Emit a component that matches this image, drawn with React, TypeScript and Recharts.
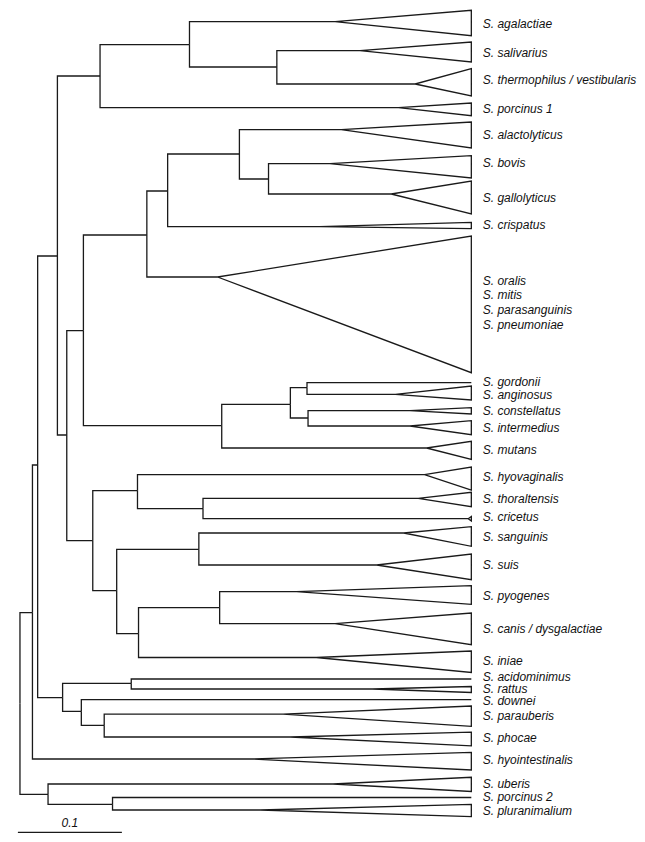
import React from 'react';
import { ScatterChart, Scatter, XAxis, YAxis } from 'recharts';

// Internal nodes: x = distance from root (substitutions/site), y = vertical position
const internalNodes = [
  { id: 'root', x: 0.0, y: 703.5, parent: '' },
  { id: 'n32', x: 0.012, y: 612.7, parent: 'root' },
  { id: 'n38', x: 0.017, y: 465, parent: 'n32' },
  { id: 'n57', x: 0.036, y: 256, parent: 'n38' },
  { id: 'n100', x: 0.077, y: 76, parent: 'n57' },
  { id: 'n190', x: 0.163, y: 44.7, parent: 'n100' },
  { id: 'n277', x: 0.247, y: 67, parent: 'n190' },
  { id: 'n67', x: 0.045, y: 435, parent: 'n57' },
  { id: 'n83', x: 0.061, y: 330.7, parent: 'n67' },
  { id: 'n147', x: 0.122, y: 235, parent: 'n83' },
  { id: 'n168', x: 0.142, y: 191, parent: 'n147' },
  { id: 'n239', x: 0.211, y: 154, parent: 'n168' },
  { id: 'n269', x: 0.239, y: 179, parent: 'n239' },
  { id: 'n222', x: 0.194, y: 425.7, parent: 'n83' },
  { id: 'n290', x: 0.26, y: 404.3, parent: 'n222' },
  { id: 'n307', x: 0.276, y: 387.7, parent: 'n290' },
  { id: 'n308', x: 0.277, y: 418, parent: 'n290' },
  { id: 'n92', x: 0.07, y: 540.7, parent: 'n67' },
  { id: 'n137', x: 0.113, y: 490.7, parent: 'n92' },
  { id: 'n203', x: 0.176, y: 508.7, parent: 'n137' },
  { id: 'n117', x: 0.093, y: 590.7, parent: 'n92' },
  { id: 'n199', x: 0.172, y: 549.3, parent: 'n117' },
  { id: 'n139', x: 0.114, y: 633.7, parent: 'n117' },
  { id: 'n220', x: 0.192, y: 607.7, parent: 'n139' },
  { id: 'n62', x: 0.041, y: 697.7, parent: 'n38' },
  { id: 'n131', x: 0.107, y: 683.3, parent: 'n62' },
  { id: 'n81', x: 0.059, y: 711.3, parent: 'n62' },
  { id: 'n104', x: 0.081, y: 725.3, parent: 'n81' },
  { id: 'n48', x: 0.027, y: 794.3, parent: 'root' },
  { id: 'n112', x: 0.089, y: 804.3, parent: 'n48' },
];

// Terminal clades: apex = collapsed-clade apex distance (null = single line), top/bottom = clade extent
const leafParents = ['n190', 'n277', 'n277', 'n100', 'n239', 'n269', 'n269', 'n168', 'n147', 'n307', 'n307', 'n308', 'n308', 'n222', 'n137', 'n203', 'n203', 'n199', 'n199', 'n220', 'n220', 'n139', 'n131', 'n131', 'n81', 'n104', 'n104', 'n32', 'n48', 'n112', 'n112'];
const leafY = [21.7, 50.7, 84, 107.7, 129.7, 163.7, 194, 226.7, 277, 382.7, 394.3, 410.7, 426, 448, 474.7, 498.3, 518.7, 533, 565, 591.7, 623.7, 657.5, 679, 689, 699.7, 714.2, 737, 759, 784, 797.5, 810];
const leafApex = [0.303, 0.327, 0.38, 0.364, 0.309, 0.298, 0.357, 0.288, 0.19, null, 0.361, 0.375, 0.375, 0.391, 0.389, 0.383, 0.431, 0.369, 0.343, 0.266, 0.303, 0.285, null, 0.339, null, 0.253, 0.26, 0.221, 0.301, null, 0.231];
const leafTop = [10.3, 42, 68.7, 103, 122, 155.7, 181, 222.3, 236, 0, 386, 407.7, 420.7, 441.3, 467, 492.3, 516.5, 526.7, 554, 585.7, 613, 651, 0, 686.5, 0, 706, 732.2, 752.3, 777.3, 0, 804.3];
const leafBottom = [35.7, 62, 96, 115.7, 148, 178, 214, 228.7, 372.7, 0, 400, 414, 434.7, 459.3, 490, 506.7, 521, 546.3, 579.7, 604.3, 644.7, 672.5, 0, 692.5, 0, 726.3, 745.8, 770, 791.5, 0, 816.7];
const TIP = 0.434;

// Taxon labels
const labelNames = [
  'S. agalactiae', 'S. salivarius', 'S. thermophilus / vestibularis', 'S. porcinus 1', 'S. alactolyticus',
  'S. bovis', 'S. gallolyticus', 'S. crispatus', 'S. oralis', 'S. mitis', 'S. parasanguinis', 'S. pneumoniae',
  'S. gordonii', 'S. anginosus', 'S. constellatus', 'S. intermedius', 'S. mutans', 'S. hyovaginalis',
  'S. thoraltensis', 'S. cricetus', 'S. sanguinis', 'S. suis', 'S. pyogenes', 'S. canis / dysgalactiae',
  'S. iniae', 'S. acidominimus', 'S. rattus', 'S. downei', 'S. parauberis', 'S. phocae', 'S. hyointestinalis',
  'S. uberis', 'S. porcinus 2', 'S. pluranimalium',
];
const labelY = [23.3, 52.3, 80, 109, 135, 163, 197.7, 225, 280.7, 294.7, 309.3, 324.3, 382, 394.7, 411, 427.3, 449.3, 477, 499, 517, 536.7, 565, 595.3, 628.7, 661, 677, 688.5, 700.5, 715.3, 737.3, 760, 783.7, 796.7, 810.7];
const LABEL_X = 0.445;

// Scale bar
const scaleBar = [{ x: -0.002, y: 832.3 }, { x: 0.098, y: 832.3 }];
const scaleLabel = [{ x: 0.048, y: 822.5, name: '0.1' }];

const INK = '#1a1a1a';

type P = { x: number; y: number };
const nodeMap: Record<string, { x: number; y: number }> = {};
internalNodes.forEach((n) => (nodeMap[n.id] = n));

const paths: P[][] = [];
internalNodes.forEach((n) => {
  if (!n.parent) return;
  const p = nodeMap[n.parent];
  paths.push([{ x: p.x, y: p.y }, { x: p.x, y: n.y }, { x: n.x, y: n.y }]);
});
leafParents.forEach((pid, i) => {
  const p = nodeMap[pid];
  const y = leafY[i];
  const a = leafApex[i];
  if (a === null) {
    paths.push([{ x: p.x, y: p.y }, { x: p.x, y }, { x: TIP, y }]);
  } else {
    paths.push([
      { x: p.x, y: p.y }, { x: p.x, y }, { x: a, y },
      { x: TIP, y: leafTop[i] }, { x: TIP, y: leafBottom[i] }, { x: a, y },
    ]);
  }
});

const labelData = labelNames.map((name, i) => ({ x: LABEL_X, y: labelY[i], name }));

const Empty = () => <g />;

const LabelShape = (props: any) => {
  const name = props.payload?.name ?? props.name;
  return (
    <text x={props.cx} y={props.cy} dy="0.36em" textAnchor="start" fontSize={12}
      fontStyle="italic" fontFamily="'Liberation Sans', Arial, sans-serif" fill="#111">{name}</text>
  );
};
const ScaleLabelShape = (props: any) => {
  const name = props.payload?.name ?? props.name;
  return (
    <text x={props.cx} y={props.cy} dy="0.36em" textAnchor="middle" fontSize={12}
      fontStyle="italic" fontFamily="'Liberation Sans', Arial, sans-serif" fill="#111">{name}</text>
  );
};

export default function App() {
  return (
    <div style={{ position: 'absolute', left: 0, top: 0, background: '#fff' }}>
      <ScatterChart width={645} height={842} margin={{ top: 0, right: 0, bottom: 0, left: 0 }}>
        <XAxis type="number" dataKey="x" domain={[-0.0192, 0.601]} allowDataOverflow hide />
        <YAxis type="number" dataKey="y" domain={[0, 842]} reversed allowDataOverflow hide />
        {paths.map((d, i) => (
          <Scatter key={'p' + i} data={d} fill={INK} line={{ stroke: INK, strokeWidth: 1.3 }}
            lineType="joint" shape={Empty} isAnimationActive={false} />
        ))}
        <Scatter data={scaleBar} fill={INK} line={{ stroke: INK, strokeWidth: 1.3 }}
          lineType="joint" shape={Empty} isAnimationActive={false} />
        <Scatter data={labelData} fill="#111" shape={LabelShape} isAnimationActive={false} />
        <Scatter data={scaleLabel} fill="#111" shape={ScaleLabelShape} isAnimationActive={false} />
      </ScatterChart>
    </div>
  );
}
